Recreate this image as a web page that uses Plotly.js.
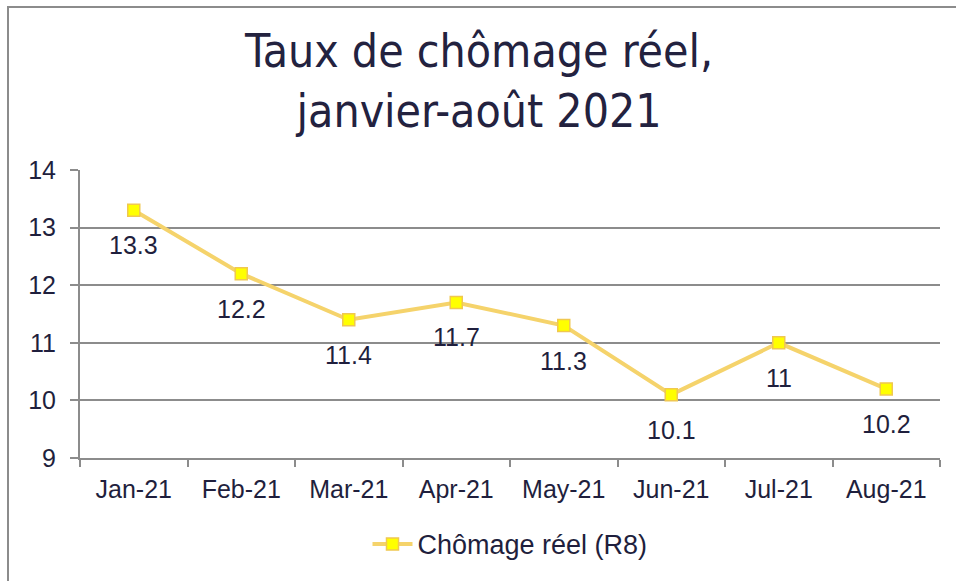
<!DOCTYPE html>
<html>
<head>
<meta charset="utf-8">
<script src="https://cdn.plot.ly/plotly-3.0.1.min.js"></script>
<style>
html,body{margin:0;padding:0;background:#fff;}
#wrap{position:relative;width:956px;height:581px;}
#frame{position:absolute;left:7px;top:6px;width:960px;height:600px;border-left:2px solid #8c8c8c;border-top:2px solid #8c8c8c;pointer-events:none;}
#chart{position:absolute;left:0;top:0;width:956px;height:581px;}
</style>
</head>
<body>
<div id="wrap"><div id="chart"></div><div id="frame"></div></div>
<script>
const months = ["Jan-21","Feb-21","Mar-21","Apr-21","May-21","Jun-21","Jul-21","Aug-21"];
const rates = [13.3, 12.2, 11.4, 11.7, 11.3, 10.1, 11, 10.2];
const seriesName = "Chômage réel (R8)";
const titleLines = ["Taux de chômage réel,", "janvier-août 2021"];
const yTicks = [9, 10, 11, 12, 13, 14];

const textColor = "#1f1f3d";
const gridColor = "#8c8c8c";
const baseFont = "Liberation Sans, Arial, sans-serif";

const trace = {
  type: "scatter",
  mode: "lines+markers",
  x: months,
  y: rates,
  name: seriesName,
  line: {color: "#f5d36b", width: 4},
  marker: {symbol: "square", size: 12, color: "#ffff00", line: {color: "#f0c850", width: 1.5}},
  hoverinfo: "none"
};

const annotations = months.map((m, i) => ({
  x: m, y: rates[i], xref: "x", yref: "y",
  text: String(rates[i]), showarrow: false,
  yshift: -35,
  font: {family: baseFont, size: 25, color: textColor}
}));

annotations.push({
  xref: "paper", yref: "paper", x: 0.463, y: 1.31,
  xanchor: "center", yanchor: "middle", showarrow: false,
  text: titleLines.join("<br>"),
  font: {family: "DejaVu Sans Condensed, Liberation Sans Narrow, sans-serif", size: 46, color: "#23223f"}
});

const layout = {
  width: 956, height: 581,
  margin: {l: 80, r: 16, t: 170, b: 120},
  paper_bgcolor: "#fff", plot_bgcolor: "#fff",
  font: {family: baseFont, size: 25, color: textColor},
  xaxis: {
    type: "category",
    range: [-0.5, 7.5],
    tickson: "boundaries",
    ticks: "outside", ticklen: 7, tickwidth: 2, tickcolor: gridColor,
    showline: true, linecolor: gridColor, linewidth: 2,
    showgrid: false, zeroline: false,
    ticklabelstandoff: 8,
    tickfont: {size: 25, color: textColor}
  },
  yaxis: {
    range: [9, 14],
    tickvals: yTicks,
    ticks: "outside", ticklen: 8, tickwidth: 2, tickcolor: gridColor,
    showline: true, linecolor: gridColor, linewidth: 2,
    showgrid: true, gridcolor: gridColor, gridwidth: 2,
    zeroline: false,
    ticklabelstandoff: 9,
    tickfont: {size: 25, color: textColor}
  },
  showlegend: true,
  legend: {
    orientation: "h", x: 0.5, xanchor: "center",
    y: -0.3, yanchor: "middle",
    font: {size: 27, color: textColor},
    itemwidth: 40
  },
  annotations: annotations
};

Plotly.newPlot("chart", [trace], layout, {displayModeBar: false, staticPlot: true});
</script>
</body>
</html>
